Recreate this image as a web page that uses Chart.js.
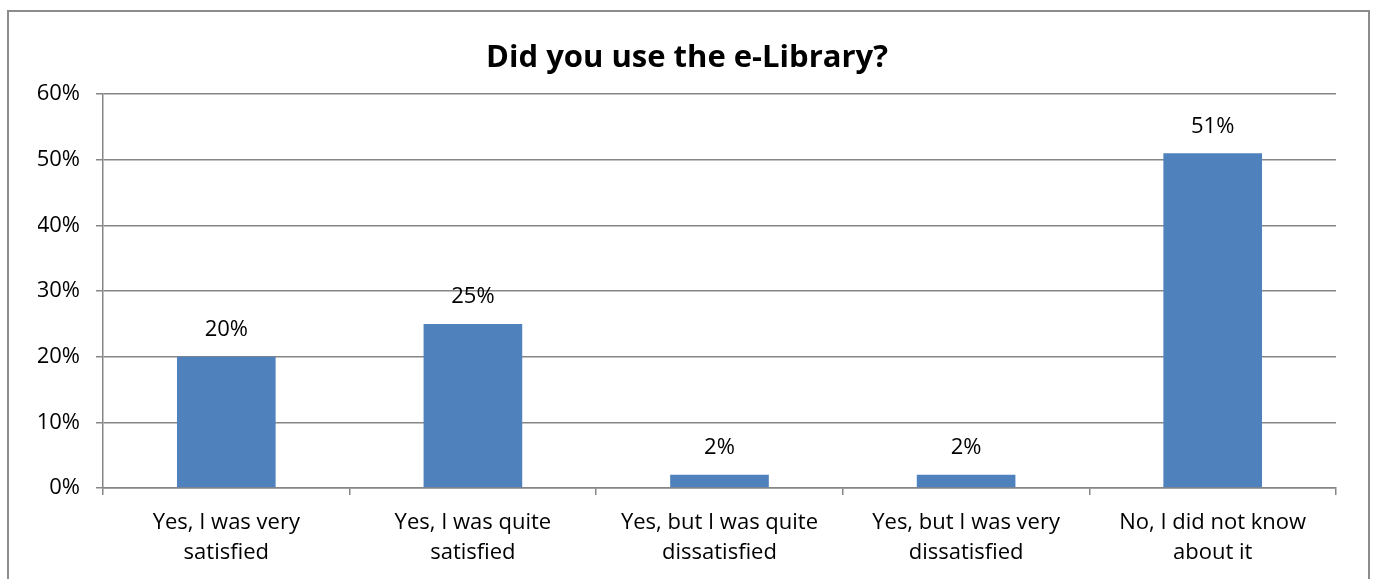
<!DOCTYPE html>
<html>
<head>
<meta charset="utf-8">
<script src="https://cdn.jsdelivr.net/npm/chart.js@4"></script>
<style>
  html, body { margin: 0; padding: 0; background: #fff; overflow: hidden; }
  #frame {
    position: absolute; left: 7px; top: 10px; width: 1363px; height: 620px;
    border: 2px solid #8c8c8c; box-sizing: border-box;
  }
  #wrap { position: absolute; left: 0; top: 0; width: 1374px; height: 579px; }
</style>
</head>
<body>
<div id="frame"></div>
<div id="wrap"><canvas id="mainChart"></canvas></div>
<script>
// ข้อมูลกราฟ
const categories = [
    ['Yes, I was very', 'satisfied'],
    ['Yes, I was quite', 'satisfied'],
    ['Yes, but I was quite', 'dissatisfied'],
    ['Yes, but I was very', 'dissatisfied'],
    ['No, I did not know', 'about it']
];
const percentValues = [20, 25, 2, 2, 51];
const yTicks = [0, 10, 20, 30, 40, 50, 60];

const FONT = "'Open Sans', 'Liberation Sans', sans-serif";
const GRID = '#868686';

/* ===== ป้ายค่าบนแท่ง ===== */
const barLabels = {
    id: 'barLabels',
    afterDatasetsDraw(chart) {
        const ctx = chart.ctx;
        const meta = chart.getDatasetMeta(0);
        ctx.save();
        ctx.font = '22px ' + FONT;
        ctx.fillStyle = '#000';
        ctx.textAlign = 'center';
        ctx.textBaseline = 'middle';
        meta.data.forEach((bar, i) => {
            ctx.fillText(percentValues[i] + '%', bar.x, bar.y - 27);
        });
        ctx.restore();
    }
};

new Chart(document.getElementById('mainChart'), {
    type: 'bar',
    data: {
        labels: categories,
        datasets: [{
            data: percentValues,
            backgroundColor: '#4F81BD',
            categoryPercentage: 1,
            barPercentage: 0.4
        }]
    },
    options: {
        responsive: true,
        maintainAspectRatio: false,
        animation: false,
        layout: { padding: { left: 38, right: 38, top: 0, bottom: 0 } },
        plugins: {
            legend: { display: false },
            tooltip: { enabled: false },
            title: {
                display: true,
                text: 'Did you use the e-Library?',
                color: '#000',
                font: { family: FONT, size: 31, weight: 'bold', lineHeight: 1.2 },
                padding: { top: 40, bottom: 17 }
            }
        },
        scales: {
            y: {
                min: 0,
                max: 60,
                afterFit: (scale) => { scale.width = 65; },
                afterBuildTicks: (scale) => { scale.ticks = yTicks.map(v => ({ value: v })); },
                border: { display: true, color: GRID, width: 1.5 },
                grid: { color: GRID, lineWidth: 1.5, tickLength: 7 },
                ticks: {
                    color: '#000',
                    padding: 16,
                    font: { family: FONT, size: 22 },
                    callback: (v) => v + '%'
                }
            },
            x: {
                afterFit: (scale) => { scale.height = 91; },
                border: { display: true, color: GRID, width: 1.5 },
                grid: { color: GRID, lineWidth: 1.5, drawOnChartArea: false, tickLength: 7, offset: true },
                ticks: {
                    color: '#000',
                    padding: 13,
                    maxRotation: 0,
                    font: { family: FONT, size: 22, lineHeight: 1.36 }
                }
            }
        }
    },
    plugins: [barLabels]
});
</script>
</body>
</html>
